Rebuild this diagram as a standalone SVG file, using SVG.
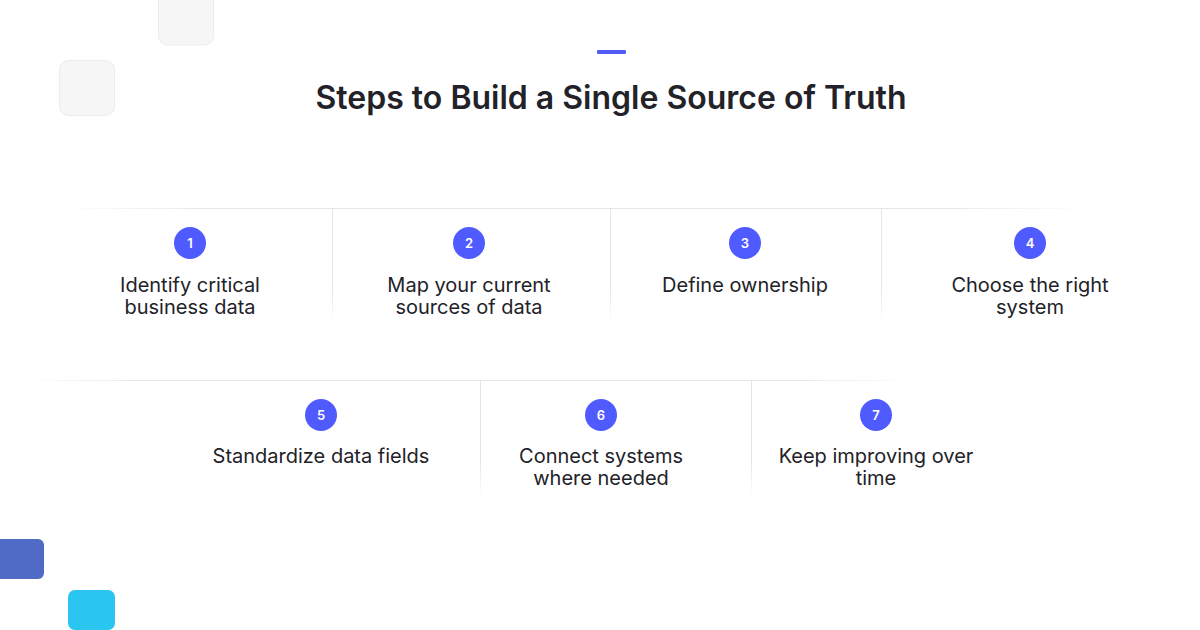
<svg xmlns="http://www.w3.org/2000/svg" width="1200" height="630" viewBox="0 0 1200 630">
<defs>
<linearGradient id="hl" x1="0" x2="1" y1="0" y2="0"><stop offset="0" stop-color="#e6e6e6" stop-opacity="0"/><stop offset="0.15" stop-color="#e6e6e6"/><stop offset="0.85" stop-color="#e6e6e6"/><stop offset="1" stop-color="#e6e6e6" stop-opacity="0"/></linearGradient>
<linearGradient id="vl" x1="0" x2="0" y1="0" y2="1"><stop offset="0" stop-color="#e6e6e6"/><stop offset="0.7" stop-color="#e6e6e6"/><stop offset="1" stop-color="#e6e6e6" stop-opacity="0"/></linearGradient>
<style>
.t{font-family:Inter,"Liberation Sans",sans-serif;font-size:20px;fill:#222228;text-anchor:middle}
.n{font-family:Inter,"Liberation Sans",sans-serif;font-size:13px;font-weight:600;fill:#fff;text-anchor:middle}
.c{fill:#4f5bff}
.deco{fill:#f6f6f6;stroke:#ececec}
</style>
</defs>
<rect width="1200" height="630" fill="#fff"/>
<rect class="deco" x="158.5" y="-10" width="55" height="55" rx="9"/>
<rect class="deco" x="59.5" y="60.5" width="55" height="55" rx="9"/>
<rect x="-10" y="539" width="54" height="40" rx="6" fill="#4f6bc6"/>
<rect x="68" y="590" width="47" height="40" rx="7" fill="#2bc5f1"/>
<rect x="597" y="50" width="29" height="4" rx="1" fill="#4f5bf5"/>
<text x="611" y="109" font-family="Inter,'Liberation Sans',sans-serif" font-size="32" font-weight="600" fill="#222228" text-anchor="middle">Steps to Build a Single Source of Truth</text>
<g id="connectors">
<rect x="60" y="208" width="1030" height="1" fill="url(#hl)"/>
<rect x="20" y="380" width="900" height="1" fill="url(#hl)"/>
<rect x="332" y="209" width="1" height="115" fill="url(#vl)"/>
<rect x="610" y="209" width="1" height="115" fill="url(#vl)"/>
<rect x="881" y="209" width="1" height="115" fill="url(#vl)"/>
<rect x="480" y="381" width="1" height="115" fill="url(#vl)"/>
<rect x="751" y="381" width="1" height="115" fill="url(#vl)"/>
</g>
<g id="s1"><circle class="c" cx="190" cy="243" r="16"/><text class="n" x="190" y="248">1</text><text class="t" x="190" y="292">Identify critical</text><text class="t" x="190" y="314">business data</text></g>
<g id="s2"><circle class="c" cx="469" cy="243" r="16"/><text class="n" x="469" y="248">2</text><text class="t" x="469" y="292">Map your current</text><text class="t" x="469" y="314">sources of data</text></g>
<g id="s3"><circle class="c" cx="745" cy="243" r="16"/><text class="n" x="745" y="248">3</text><text class="t" x="745" y="292">Define ownership</text></g>
<g id="s4"><circle class="c" cx="1030" cy="243" r="16"/><text class="n" x="1030" y="248">4</text><text class="t" x="1030" y="292">Choose the right</text><text class="t" x="1030" y="314">system</text></g>
<g id="s5"><circle class="c" cx="321" cy="415" r="16"/><text class="n" x="321" y="420">5</text><text class="t" x="321" y="463">Standardize data fields</text></g>
<g id="s6"><circle class="c" cx="601" cy="415" r="16"/><text class="n" x="601" y="420">6</text><text class="t" x="601" y="463">Connect systems</text><text class="t" x="601" y="485">where needed</text></g>
<g id="s7"><circle class="c" cx="876" cy="415" r="16"/><text class="n" x="876" y="420">7</text><text class="t" x="876" y="463">Keep improving over</text><text class="t" x="876" y="485">time</text></g>
</svg>
